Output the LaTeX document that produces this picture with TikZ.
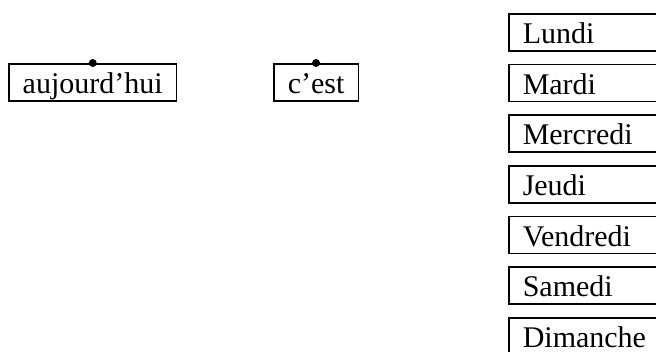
\documentclass[tikz,border=0pt]{standalone}
\usepackage{fontspec}
\setmainfont{Liberation Serif}

\begin{document}
\begin{tikzpicture}[x=1pt,y=-1pt,
    word/.style={draw,line width=1.5pt,rectangle,anchor=north west,
      font=\fontsize{30}{36}\selectfont,inner xsep=14pt,inner ysep=4.25pt,
      text height=25.5pt,text depth=3pt},
    day/.style={word,text width=180pt,align=left},
    knob/.style={circle,fill,inner sep=0pt,minimum size=8pt}]
    \useasboundingbox (0,0) rectangle (656,351);
    \node[word] (auj) at (8,63) {aujourd'hui};
    \node[word] (cest) at (273,63) {c'est};
    \node[knob] (aujknob) at (auj.north) {};
    \node[knob] (cestknob) at (cest.north) {};
    \node[day] (lun) at (508,13) {Lundi};
    \node[day] (mar) at (508,63.7) {Mardi};
    \node[day] (mer) at (508,114.3) {Mercredi};
    \node[day] (jeu) at (508,165) {Jeudi};
    \node[day] (ven) at (508,215.7) {Vendredi};
    \node[day] (sam) at (508,266.3) {Samedi};
    \node[day] (dim) at (508,317) {Dimanche};
\end{tikzpicture}
\end{document}
